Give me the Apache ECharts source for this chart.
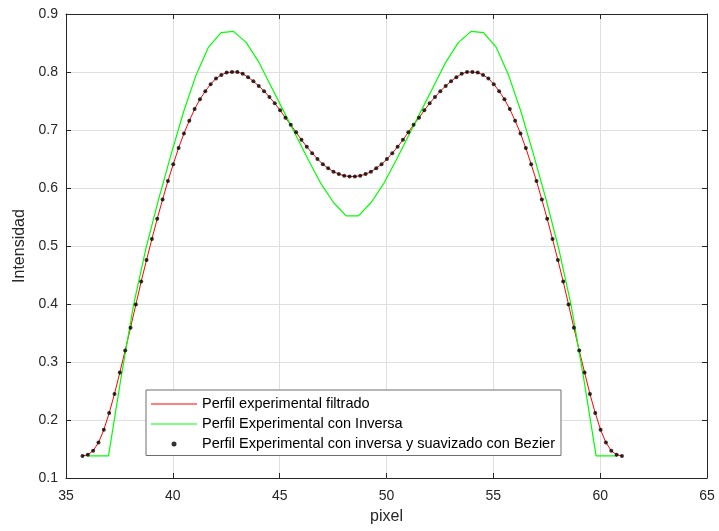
<!DOCTYPE html>
<html>
<head>
<meta charset="utf-8">
<title>Perfil</title>
<script src="https://cdn.jsdelivr.net/npm/echarts@6/dist/echarts.min.js"></script>
<style>
  html, body { margin: 0; padding: 0; background: #fff; }
  #container { width: 719px; height: 531px; }
</style>
</head>
<body>
<div id="container"></div>
<script>
// pixel positions of the profile samples (same for the filtered line and the Bezier dots)
var perfilX = [
  35.77, 36.02, 36.27, 36.52, 36.77, 37.02, 37.27, 37.52, 37.77, 38.02,
  38.27, 38.52, 38.77, 39.02, 39.27, 39.52, 39.77, 40.02, 40.27, 40.52,
  40.77, 41.02, 41.27, 41.52, 41.77, 42.02, 42.27, 42.52, 42.77, 43.02,
  43.27, 43.52, 43.77, 44.02, 44.27, 44.52, 44.77, 45.02, 45.27, 45.52,
  45.77, 46.02, 46.27, 46.52, 46.77, 47.02, 47.27, 47.52, 47.77, 48.02,
  48.27, 48.52, 48.77, 49.02, 49.27, 49.52, 49.77, 50.02, 50.27, 50.52,
  50.77, 51.02, 51.27, 51.52, 51.77, 52.02, 52.27, 52.52, 52.77, 53.02,
  53.27, 53.52, 53.77, 54.02, 54.27, 54.52, 54.77, 55.02, 55.27, 55.52,
  55.77, 56.02, 56.27, 56.52, 56.77, 57.02, 57.27, 57.52, 57.77, 58.02,
  58.27, 58.52, 58.77, 59.02, 59.27, 59.52, 59.77, 60.02, 60.27, 60.52,
  60.77, 61.02
];
// intensidad del perfil filtrado / suavizado
var perfilY = [
  0.138, 0.140, 0.147, 0.161, 0.183, 0.212, 0.245, 0.282, 0.320, 0.359,
  0.399, 0.439, 0.476, 0.512, 0.547, 0.580, 0.612, 0.641, 0.669, 0.694,
  0.716, 0.736, 0.753, 0.767, 0.779, 0.789, 0.795, 0.799, 0.800, 0.800,
  0.797, 0.791, 0.784, 0.776, 0.767, 0.757, 0.746, 0.734, 0.721, 0.709,
  0.696, 0.683, 0.671, 0.660, 0.650, 0.641, 0.634, 0.628, 0.624, 0.621,
  0.620, 0.620, 0.621, 0.624, 0.628, 0.634, 0.641, 0.650, 0.660, 0.671,
  0.683, 0.696, 0.709, 0.721, 0.734, 0.746, 0.757, 0.767, 0.776, 0.784,
  0.791, 0.797, 0.800, 0.800, 0.799, 0.795, 0.789, 0.779, 0.767, 0.753,
  0.736, 0.716, 0.694, 0.669, 0.641, 0.612, 0.580, 0.547, 0.512, 0.476,
  0.439, 0.399, 0.359, 0.320, 0.282, 0.245, 0.212, 0.183, 0.161, 0.147,
  0.140, 0.138
];
// perfil con inversa (verde)
var inversaX = [
  36.02, 36.99, 37.58, 38.16, 38.75, 39.33, 39.92, 40.50, 41.09, 41.67,
  42.26, 42.84, 43.43, 44.01, 44.60, 45.18, 45.77, 46.35, 46.94, 47.52,
  48.11, 48.69, 49.28, 49.86, 50.45, 51.03, 51.62, 52.20, 52.79, 53.37,
  53.96, 54.54, 55.13, 55.71, 56.30, 56.88, 57.47, 58.05, 58.64, 59.22,
  59.81, 60.78
];
var inversaY = [
  0.138, 0.138, 0.274, 0.398, 0.497, 0.580, 0.658, 0.731, 0.795, 0.843,
  0.868, 0.870, 0.851, 0.818, 0.775, 0.733, 0.690, 0.648, 0.607, 0.575,
  0.552, 0.552, 0.575, 0.607, 0.648, 0.690, 0.733, 0.775, 0.818, 0.851,
  0.870, 0.868, 0.843, 0.795, 0.731, 0.658, 0.580, 0.497, 0.398, 0.274,
  0.138, 0.138
];
var nombres = [
  'Perfil experimental filtrado',
  'Perfil Experimental con Inversa',
  'Perfil Experimental con inversa y suavizado con Bezier'
];
var colores = ['#ff0000', '#00ff00', '#000000'];

function pares(xs, ys) {
  var out = [];
  xs.forEach(function (x, i) { out.push([x, ys[i]]); });
  return out;
}

var fuente = "'Liberation Sans', Arial, sans-serif";
var ejeColor = '#262626';

var dom = document.getElementById('container');
var myChart = echarts.init(dom, null, { renderer: 'canvas' });

var option = {
  animation: false,
  backgroundColor: '#ffffff',
  textStyle: { fontFamily: fuente },
  grid: { left: 66, right: 12, top: 14, bottom: 53, containLabel: false },
  legend: {
    orient: 'vertical',
    left: 146,
    top: 390,
    itemWidth: 46,
    itemHeight: 5,
    itemGap: 5,
    padding: [6.5, 6, 4, 5],
    backgroundColor: '#ffffff',
    borderColor: '#6e6e6e',
    borderWidth: 1,
    borderRadius: 0,
    selectedMode: false,
    textStyle: { color: '#000', fontSize: 14.5, fontFamily: fuente },
    data: [
      { name: nombres[0], icon: 'path://M0,0h46v1h-46z', itemStyle: { color: colores[0], borderWidth: 0 } },
      { name: nombres[1], icon: 'path://M0,0h46v1h-46z', itemStyle: { color: colores[1], borderWidth: 0 } },
      { name: nombres[2], icon: 'circle', itemStyle: { color: colores[2], borderWidth: 0 } }
    ]
  },
  xAxis: [
    {
      type: 'value', position: 'bottom', min: 35, max: 65, interval: 5,
      name: 'pixel', nameLocation: 'middle', nameGap: 31,
      nameTextStyle: { color: ejeColor, fontSize: 16, fontFamily: fuente },
      axisLine: { show: true, onZero: false, lineStyle: { color: ejeColor, width: 1 } },
      axisTick: { show: true, inside: true, length: 5, lineStyle: { color: ejeColor } },
      axisLabel: { color: ejeColor, fontSize: 14, margin: 11, fontFamily: fuente },
      splitLine: { show: true, lineStyle: { color: '#dfdfdf', width: 1 } }
    },
    {
      type: 'value', position: 'top', min: 35, max: 65, interval: 5,
      axisLine: { show: true, onZero: false, lineStyle: { color: ejeColor, width: 1 } },
      axisTick: { show: true, inside: true, length: 5, lineStyle: { color: ejeColor } },
      axisLabel: { show: false },
      splitLine: { show: false }
    }
  ],
  yAxis: [
    {
      type: 'value', position: 'left', min: 0.1, max: 0.9, interval: 0.1,
      name: 'Intensidad', nameLocation: 'middle', nameGap: 31, nameRotate: 90,
      nameTextStyle: { color: ejeColor, fontSize: 16, fontFamily: fuente },
      axisLine: { show: true, onZero: false, lineStyle: { color: ejeColor, width: 1 } },
      axisTick: { show: true, inside: true, length: 5, lineStyle: { color: ejeColor } },
      axisLabel: {
        color: ejeColor, fontSize: 14, margin: 8, fontFamily: fuente,
        formatter: function (v) { return v.toFixed(1); }
      },
      splitLine: { show: true, lineStyle: { color: '#dfdfdf', width: 1 } }
    },
    {
      type: 'value', position: 'right', min: 0.1, max: 0.9, interval: 0.1,
      axisLine: { show: true, onZero: false, lineStyle: { color: ejeColor, width: 1 } },
      axisTick: { show: true, inside: true, length: 5, lineStyle: { color: ejeColor } },
      axisLabel: { show: false },
      splitLine: { show: false }
    }
  ],
  series: [
    {
      name: nombres[0],
      type: 'line',
      xAxisIndex: 0, yAxisIndex: 0,
      data: pares(perfilX, perfilY),
      symbol: 'none',
      color: colores[0],
      lineStyle: { color: colores[0], width: 1 },
      z: 2
    },
    {
      name: nombres[1],
      type: 'line',
      xAxisIndex: 0, yAxisIndex: 0,
      data: pares(inversaX, inversaY),
      symbol: 'none',
      color: colores[1],
      lineStyle: { color: colores[1], width: 1.2 },
      z: 3
    },
    {
      name: nombres[2],
      type: 'scatter',
      xAxisIndex: 0, yAxisIndex: 0,
      data: pares(perfilX, perfilY),
      symbol: 'circle',
      symbolSize: 4,
      color: colores[2],
      itemStyle: { color: colores[2] },
      z: 4
    }
  ]
};
myChart.setOption(option, true);
</script>
</body>
</html>
